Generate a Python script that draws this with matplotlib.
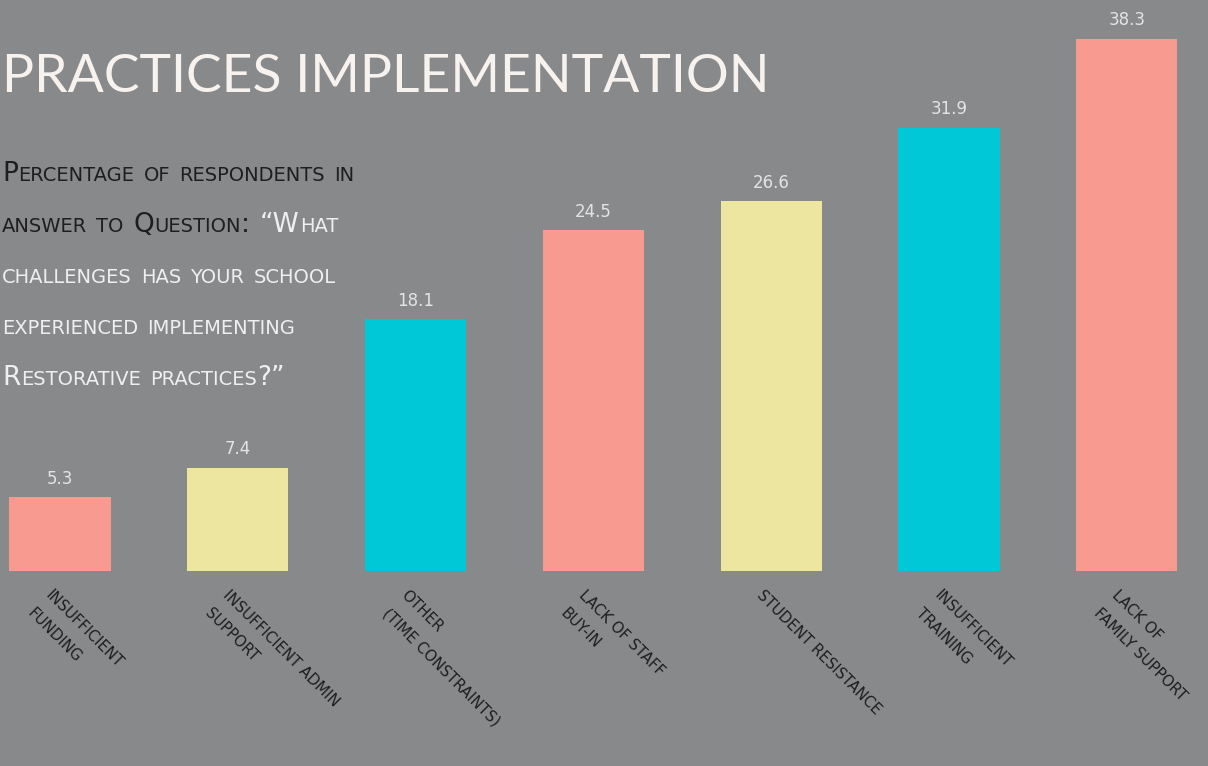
import re
import matplotlib
matplotlib.use("Agg")
import matplotlib.pyplot as plt
from matplotlib.transforms import IdentityTransform

categories = ["Insufficient\nFunding", "Insufficient Admin\nsupport", "Other\n(Time Constraints)",
              "Lack of Staff\nBuy-in", "Student Resistance", "Insufficient\nTraining",
              "Lack of\nFamily support"]
values = [5.3, 7.4, 18.1, 24.5, 26.6, 31.9, 38.3]
value_labels = ["5.3", "7.4", "18.1", "24.5", "26.6", "31.9", "38.3"]
title = "PRACTICES IMPLEMENTATION"
subtitle_lines = [
    [("Percentage of respondents in", "dark")],
    [("answer to Question: ", "dark"), ("\u201cWhat", "light")],
    [("challenges has your school", "light")],
    [("experienced implementing", "light")],
    [("Restorative practices?\u201d", "light")],
]

BG = "#88898b"
SALMON = "#f89a90"
YELLOW = "#ede6a0"
CYAN = "#00c8d6"
colors = [SALMON, YELLOW, CYAN, SALMON, YELLOW, CYAN, SALMON]
DARK = "#1e1e1e"
LIGHT = "#efefef"
FONT = "DejaVu Sans"

W, H = 1208, 766
fig = plt.figure(figsize=(W / 100, H / 100), dpi=100, facecolor=BG)
ax = fig.add_axes([0, (H - 571) / H, 1, 571 / H])
ax.set_facecolor(BG)
x = list(range(len(values)))
ax.bar(x, values, width=0.57, color=colors, edgecolor="none")
ax.set_xlim(-60 / 177.8, (W - 60) / 177.8)
ax.set_ylim(0, 571 / 13.9)
for s in ax.spines.values():
    s.set_visible(False)
ax.set_xticks([])
ax.set_yticks([])

for xi, v, lab in zip(x, values, value_labels):
    ax.annotate(lab, (xi, v), xytext=(0, 7), textcoords="offset points",
                ha="center", va="bottom", color="#e4e4e4", fontsize=12, family=FONT)

for xi, cat in zip(x, categories):
    ax.annotate(cat.upper(), (xi - 0.04, 0), xytext=(0, -12), textcoords="offset points",
                rotation=-45, rotation_mode="anchor", ha="left", va="top",
                multialignment="left", color=DARK, fontsize=10.8, family=FONT,
                linespacing=1.9, annotation_clip=False)

fig.text(2 / W, (H - 92) / H, title, color="#f7f2ee", fontsize=38.5, family="Lato",
         ha="left", va="baseline")

renderer = fig.canvas.get_renderer()
BIG, SMALL = 19, 14
baselines = [181, 232, 283, 334, 385]
for base, segs in zip(baselines, subtitle_lines):
    cx = 2.0
    for text, tone in segs:
        col = DARK if tone == "dark" else LIGHT
        for tok in re.findall(r"[a-z]+| +|[^a-z ]+", text):
            if tok.startswith(" "):
                cx += len(tok) * 0.45 * SMALL * 100 / 72
                continue
            size = SMALL if tok.islower() else BIG
            t = fig.text(cx, H - base, tok.upper(), fontsize=size, color=col, family=FONT,
                         transform=IdentityTransform(), ha="left", va="baseline")
            cx += t.get_window_extent(renderer).width + 0.5

fig.savefig("out.png", dpi=100, facecolor=BG)
